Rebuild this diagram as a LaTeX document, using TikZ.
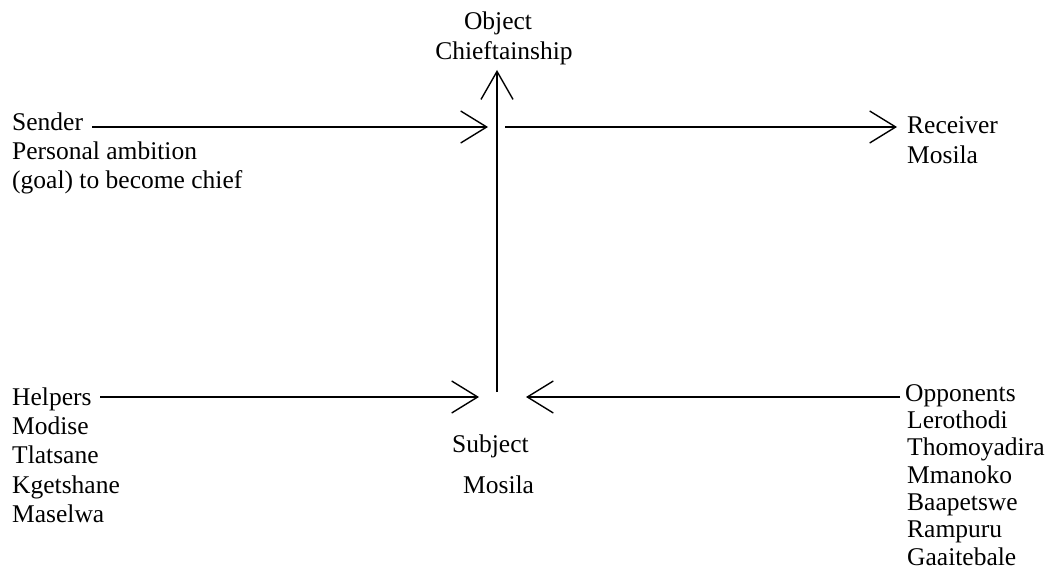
\documentclass[tikz,border=0pt]{standalone}
\usepackage{fontspec}
\setmainfont{Liberation Serif}
\usetikzlibrary{arrows.meta}
\newcommand{\topstrut}{\rule{0pt}{20pt}}
\begin{document}
\begin{tikzpicture}[x=1pt,y=-1pt,
  lbl/.style={inner sep=0pt, font=\fontsize{25.5}{29}\selectfont, align=left, anchor=north west},
  conn/.style={line width=1.8pt, -{Straight Barb[length=26pt,width=32pt,line width=1.4pt]}},
  vconn/.style={line width=1.4pt, -{Straight Barb[length=28pt,width=32pt,line width=1.4pt]}}]
\useasboundingbox (0,0) rectangle (1054,585);
% texts (north west anchor = baseline of first line minus 20pt)
\node[lbl, anchor=base] (object) at (498,30) {Object};
\node[lbl, anchor=base] (objname) at (504,60) {Chieftainship};
\node[lbl] (sender) at (12,110) {\topstrut Sender\\Personal ambition\\(goal) to become chief};
\node[lbl, font=\fontsize{25.5}{30}\selectfont] (receiver) at (907,113) {\topstrut Receiver\\Mosila};
\node[lbl, font=\fontsize{25.5}{29.3}\selectfont] (helpers) at (12,385) {\topstrut Helpers\\Modise\\Tlatsane\\Kgetshane\\Maselwa};
\node[lbl, font=\fontsize{25.5}{27.3}\selectfont] (opponents) at (905,381) {\topstrut Opponents\\\hspace*{2pt}Lerothodi\\\hspace*{2pt}Thomoyadira\\\hspace*{2pt}Mmanoko\\\hspace*{2pt}Baapetswe\\\hspace*{2pt}Rampuru\\\hspace*{2pt}Gaaitebale};
\node[lbl, anchor=base west] (subject) at (452,452) {Subject};
\node[lbl, anchor=base west] (subjname) at (463,493) {Mosila};
% junction points
\coordinate (sStart) at (92,127);
\coordinate (sTip) at (488,127);
\coordinate (rStart) at (505,127);
\coordinate (rTip) at (897,127);
\coordinate (vBot) at (497,392);
\coordinate (vTip) at (497,70);
\coordinate (hStart) at (100,397);
\coordinate (hTip) at (479,397);
\coordinate (oStart) at (900,397);
\coordinate (oTip) at (526,397);
% connectors
\draw[conn] (sStart) -- (sTip);
\draw[conn] (rStart) -- (rTip);
\draw[vconn] (vBot) -- (vTip);
\draw[conn] (hStart) -- (hTip);
\draw[conn] (oStart) -- (oTip);
\end{tikzpicture}
\end{document}
